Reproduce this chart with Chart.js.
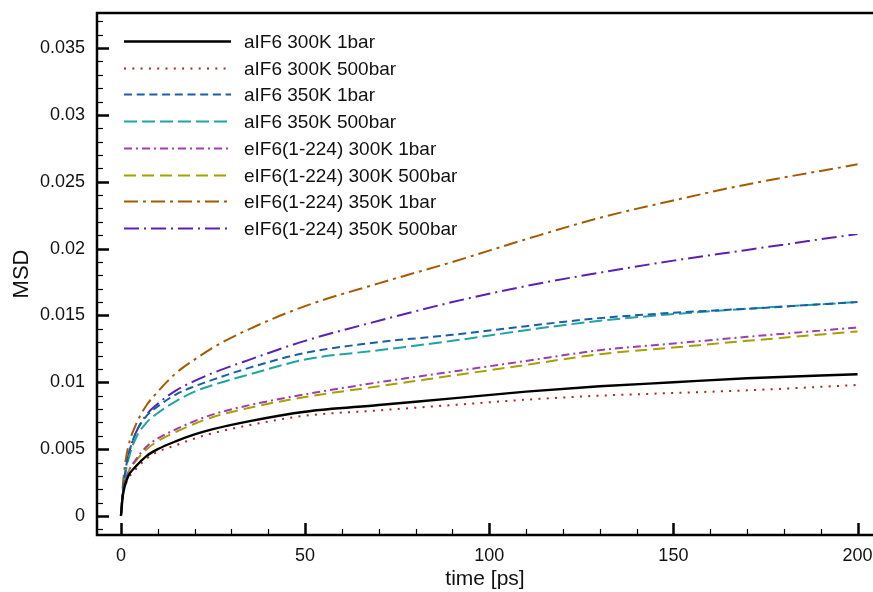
<!DOCTYPE html>
<html>
<head>
    <title>MSD</title>
    <script src="https://cdn.jsdelivr.net/npm/chart.js@4.4.1/dist/chart.umd.min.js"></script>
    <style>
        html, body { margin: 0; padding: 0; background: #fff; }
        #wrap { width: 873px; height: 592px; }
    </style>
    <script>
        // time axis (ps)
        var times = [0, 0.5, 1, 2, 4, 7, 10, 15, 20, 25, 35, 50, 70, 90, 110, 130, 150, 170, 200];

        var a300_1 = [0, 0.0015, 0.0022, 0.0030, 0.0037, 0.0045, 0.0050, 0.0056, 0.0061, 0.0065, 0.0071, 0.0078, 0.0083, 0.0088, 0.0093, 0.0097, 0.0100, 0.0103, 0.0106];
        var a300_500 = [0, 0.0014, 0.0021, 0.0028, 0.0035, 0.0043, 0.0048, 0.0053, 0.0058, 0.0062, 0.0068, 0.0075, 0.0079, 0.0083, 0.0087, 0.0090, 0.0092, 0.0094, 0.0098];
        var a350_1 = [0, 0.0018, 0.0030, 0.0045, 0.0062, 0.0075, 0.0082, 0.0091, 0.0097, 0.0102, 0.0111, 0.0122, 0.0130, 0.01355, 0.0142, 0.0148, 0.0152, 0.0155, 0.0160];
        var a350_500 = [0, 0.0017, 0.0028, 0.0042, 0.0058, 0.0070, 0.0077, 0.0086, 0.0093, 0.0098, 0.0106, 0.0117, 0.0124, 0.0131, 0.0139, 0.0146, 0.0151, 0.0155, 0.0160];
        var e300_1 = [0, 0.0015, 0.0024, 0.0033, 0.0042, 0.0052, 0.0058, 0.0065, 0.0071, 0.0076, 0.0083, 0.0091, 0.0100, 0.0108, 0.0116, 0.0124, 0.0129, 0.0134, 0.0141];
        var e300_500 = [0, 0.0015, 0.0024, 0.0033, 0.0041, 0.0050, 0.0056, 0.0063, 0.0069, 0.0074, 0.0081, 0.0089, 0.0097, 0.0105, 0.0113, 0.0121, 0.0126, 0.0131, 0.0138];
        var e350_1 = [0, 0.0022, 0.0036, 0.0052, 0.0068, 0.0083, 0.0093, 0.0107, 0.0117, 0.0126, 0.0140, 0.0157, 0.0174, 0.0190, 0.0207, 0.0223, 0.0236, 0.0248, 0.0263];
        var e350_500 = [0, 0.0018, 0.0030, 0.0045, 0.0062, 0.0076, 0.0084, 0.0094, 0.0101, 0.0107, 0.0117, 0.0131, 0.0146, 0.0160, 0.0172, 0.0182, 0.0191, 0.0199, 0.0211];

        var labels = ["aIF6 300K 1bar", "aIF6 300K 500bar", "aIF6 350K 1bar", "aIF6 350K 500bar",
            "eIF6(1-224) 300K 1bar", "eIF6(1-224) 300K 500bar", "eIF6(1-224) 350K 1bar", "eIF6(1-224) 350K 500bar"];
        var series = [a300_1, a300_500, a350_1, a350_500, e300_1, e300_500, e350_1, e350_500];

        // tick positions
        var xMajor = [0, 50, 100, 150, 200];
        var xMinor = [10, 20, 30, 40, 60, 70, 80, 90, 110, 120, 130, 140, 160, 170, 180, 190];
        var yMajor = [0, 0.005, 0.01, 0.015, 0.02, 0.025, 0.03, 0.035];
        var yMinor = [-0.001, 0.001, 0.002, 0.003, 0.004, 0.006, 0.007, 0.008, 0.009, 0.011, 0.012, 0.013, 0.014,
            0.016, 0.017, 0.018, 0.019, 0.021, 0.022, 0.023, 0.024, 0.026, 0.027, 0.028, 0.029,
            0.031, 0.032, 0.033, 0.034, 0.036, 0.037];

        var colors = ["#000000", "#a8281e", "#1a5fa6", "#1fa3a3", "#a03cb0", "#a6a000", "#a65a00", "#5a22b0"];
        var dashes = [[], [2, 6.3], [8, 4.7], [13, 5], [8, 4, 2, 4], [12, 6], [14, 5, 3, 5], [15, 5, 2, 5]];
        var widths = [2.4, 2, 2, 2, 2, 2, 2, 2];

        function isMajor(v, list) {
            return list.some(function (m) { return Math.abs(m - v) < 1e-9; });
        }

        function setTicks(major, minor) {
            return function (s) {
                s.ticks = major.concat(minor).sort(function (a, b) { return a - b; })
                    .map(function (v) { return { value: v, major: isMajor(v, major) }; });
            };
        }

        // frame, inward ticks and legend inside the plot
        var framePlugin = {
            id: 'frame',
            afterDraw: function (chart) {
                var ctx = chart.ctx;
                var a = chart.chartArea;
                var xs = chart.scales.x, ys = chart.scales.y;
                ctx.save();
                ctx.strokeStyle = '#000';
                xs.ticks.forEach(function (t) {
                    var px = Math.round(xs.getPixelForValue(t.value)) + 0.5;
                    ctx.lineWidth = t.major ? 2.5 : 1.2;
                    ctx.beginPath();
                    ctx.moveTo(px, a.bottom);
                    ctx.lineTo(px, a.bottom - (t.major ? 12 : 6));
                    ctx.stroke();
                });
                ys.ticks.forEach(function (t) {
                    var py = Math.round(ys.getPixelForValue(t.value)) + 0.5;
                    ctx.lineWidth = t.major ? 2.5 : 1.2;
                    ctx.beginPath();
                    ctx.moveTo(a.left, py);
                    ctx.lineTo(a.left + (t.major ? 12 : 6), py);
                    ctx.stroke();
                });
                ctx.lineWidth = 2.5;
                ctx.beginPath();
                ctx.moveTo(a.right + 2, a.top);
                ctx.lineTo(a.left, a.top);
                ctx.lineTo(a.left, a.bottom);
                ctx.lineTo(a.right + 2, a.bottom);
                ctx.stroke();

                // legend
                var lx = a.left + 27, ly = a.top + 28, row = 26.7;
                ctx.font = '19px "Liberation Sans", Arial, sans-serif';
                ctx.textBaseline = 'middle';
                chart.data.datasets.forEach(function (ds, i) {
                    var y = Math.round(ly + i * row) + 0.5;
                    ctx.strokeStyle = ds.borderColor;
                    ctx.lineWidth = ds.borderWidth;
                    ctx.setLineDash(ds.borderDash);
                    ctx.beginPath();
                    ctx.moveTo(lx, y);
                    ctx.lineTo(lx + 107, y);
                    ctx.stroke();
                    ctx.setLineDash([]);
                    ctx.fillStyle = '#111';
                    ctx.fillText(ds.label, lx + 120, y + 1);
                });
                ctx.restore();
            }
        };

        window.addEventListener('load', function () {
            var datasets = series.map(function (s, i) {
                return {
                    label: labels[i],
                    data: s.map(function (v, k) { return { x: times[k], y: v }; }),
                    borderColor: colors[i],
                    borderDash: dashes[i],
                    borderWidth: widths[i],
                    pointRadius: 0,
                    fill: false,
                    cubicInterpolationMode: 'monotone'
                };
            });
            new Chart(document.getElementById('msd').getContext('2d'), {
                type: 'line',
                data: { datasets: datasets },
                options: {
                    responsive: false,
                    animation: false,
                    layout: { padding: { top: 13, right: 0, left: 0, bottom: 0 } },
                    plugins: { legend: { display: false }, tooltip: { enabled: false } },
                    scales: {
                        x: {
                            type: 'linear',
                            min: -6.5,
                            max: 204.2,
                            grid: { display: false, drawTicks: false },
                            border: { display: false },
                            afterBuildTicks: setTicks(xMajor, xMinor),
                            afterFit: function (s) { s.height = 57; s.paddingLeft = 0; s.paddingRight = 0; },
                            ticks: {
                                autoSkip: false,
                                maxRotation: 0,
                                padding: 10,
                                color: '#111',
                                font: { family: '"Liberation Sans", Arial', size: 18 },
                                callback: function (v) { return isMajor(v, xMajor) ? String(v) : ''; }
                            },
                            title: {
                                display: true,
                                text: 'time [ps]',
                                color: '#111',
                                padding: { top: 0, bottom: 0 },
                                font: { family: '"Liberation Sans", Arial', size: 21 }
                            }
                        },
                        y: {
                            min: -0.00142,
                            max: 0.03762,
                            grid: { display: false, drawTicks: false },
                            border: { display: false },
                            afterBuildTicks: setTicks(yMajor, yMinor),
                            afterFit: function (s) { s.width = 97; s.paddingTop = 0; s.paddingBottom = 0; },
                            ticks: {
                                autoSkip: false,
                                padding: 12,
                                color: '#111',
                                font: { family: '"Liberation Sans", Arial', size: 18 },
                                callback: function (v) { return isMajor(v, yMajor) ? String(v) : ''; }
                            },
                            title: {
                                display: true,
                                text: 'MSD',
                                color: '#111',
                                padding: { top: 9, bottom: 0 },
                                font: { family: '"Liberation Sans", Arial', size: 22 }
                            }
                        }
                    }
                },
                plugins: [framePlugin]
            });
        });
    </script>
</head>
<body>
    <div id="wrap"><canvas id="msd" width="873" height="592"></canvas></div>
</body>
</html>
